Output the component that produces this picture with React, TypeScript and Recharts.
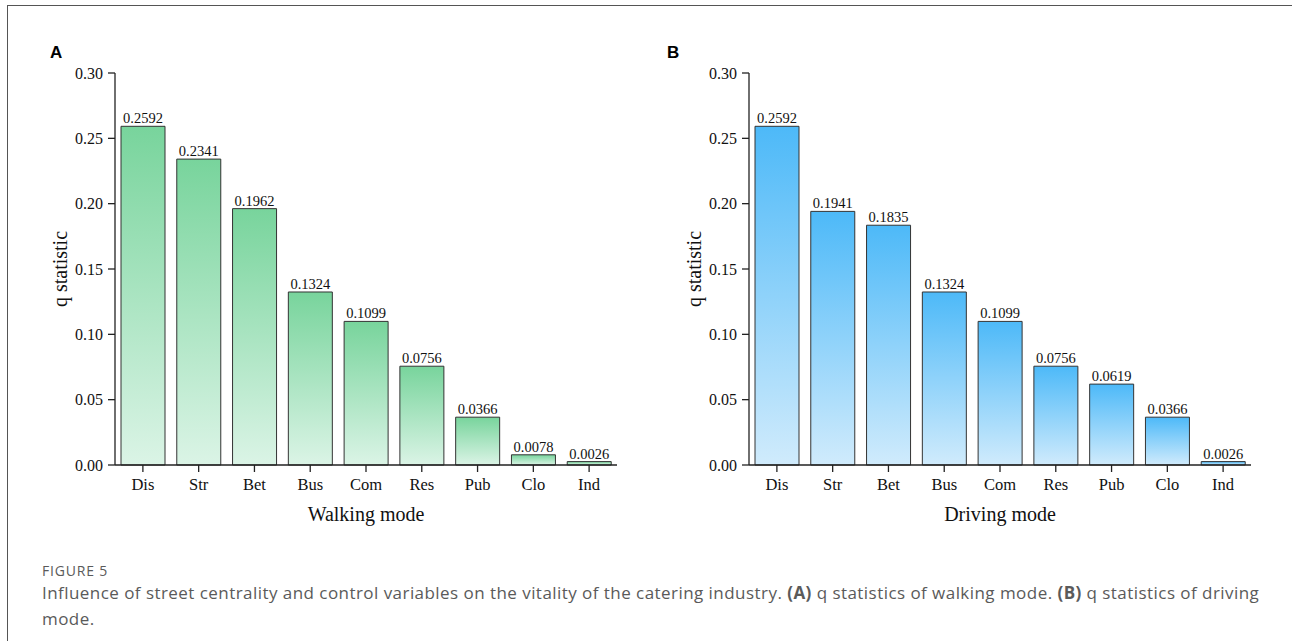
import React from 'react';
import { BarChart, Bar, XAxis, YAxis, LabelList } from 'recharts';

const categories = ['Dis', 'Str', 'Bet', 'Bus', 'Com', 'Res', 'Pub', 'Clo', 'Ind'];
const walkingValues = [0.2592, 0.2341, 0.1962, 0.1324, 0.1099, 0.0756, 0.0366, 0.0078, 0.0026];
const drivingValues = [0.2592, 0.1941, 0.1835, 0.1324, 0.1099, 0.0756, 0.0619, 0.0366, 0.0026];
const yTicks = [0, 0.05, 0.1, 0.15, 0.2, 0.25, 0.3];

const serif = '"Liberation Serif", "Times New Roman", serif';

interface PanelProps {
  values: number[];
  title: string;
  id: string;
  top: string;
  bottom: string;
}

const Panel = ({ values, title, id, top, bottom }: PanelProps) => {
  const data = categories.map((name, i) => ({ name, value: values[i] }));
  return (
    <BarChart
      width={640}
      height={540}
      data={data}
      margin={{ top: 73, right: 23, left: 55, bottom: 10 }}
    >
      <defs>
        <linearGradient id={id} x1="0" y1="0" x2="0" y2="1">
          <stop offset="0%" stopColor={top} />
          <stop offset="100%" stopColor={bottom} />
        </linearGradient>
      </defs>
      <XAxis
        dataKey="name"
        height={65}
        tickSize={7}
        tickMargin={6}
        axisLine={{ stroke: '#222', strokeWidth: 1.3 }}
        tickLine={{ stroke: '#222', strokeWidth: 1.3 }}
        tick={{ fill: '#111', fontSize: 16.5, fontFamily: serif }}
        interval={0}
        label={{
          value: title,
          position: 'insideBottom',
          offset: 9,
          style: { fill: '#111', fontSize: 20, fontFamily: serif },
        }}
      />
      <YAxis
        width={60}
        domain={[0, 0.3]}
        ticks={yTicks}
        tickFormatter={(v: number) => v.toFixed(2)}
        tickSize={7}
        tickMargin={5}
        axisLine={{ stroke: '#222', strokeWidth: 1.3 }}
        tickLine={{ stroke: '#222', strokeWidth: 1.3 }}
        tick={{ fill: '#111', fontSize: 16, fontFamily: serif }}
        label={{
          value: 'q statistic',
          angle: -90,
          position: 'insideLeft',
          offset: 5,
          style: { fill: '#111', fontSize: 20, fontFamily: serif, textAnchor: 'middle' },
        }}
      />
      <Bar
        dataKey="value"
        barSize={44}
        fill={`url(#${id})`}
        stroke="#333"
        strokeWidth={1}
        isAnimationActive={false}
      >
        <LabelList
          dataKey="value"
          position="top"
          offset={3}
          formatter={(v: number) => v.toFixed(4)}
          style={{ fill: '#111', fontSize: 14.5, fontFamily: serif }}
        />
      </Bar>
    </BarChart>
  );
};

const App = () => {
  return (
    <div style={{ position: 'absolute', left: 0, top: 0, width: 1292, height: 641, background: '#fff', overflow: 'hidden' }}>
      <div
        style={{
          position: 'absolute',
          left: 7,
          top: 5,
          width: 1300,
          height: 700,
          borderTop: '1.5px solid #555',
          borderLeft: '1.5px solid #555',
        }}
      />
      <div style={{ position: 'absolute', left: 0, top: 0 }}>
        <Panel values={walkingValues} title="Walking mode" id="gradWalk" top="#78d49c" bottom="#dbf4e6" />
      </div>
      <div style={{ position: 'absolute', left: 634, top: 0 }}>
        <Panel values={drivingValues} title="Driving mode" id="gradDrive" top="#4db9f8" bottom="#d0ebfc" />
      </div>
      <div style={{ position: 'absolute', left: 50, top: 43, fontFamily: '"Liberation Sans", Arial, sans-serif', fontWeight: 700, fontSize: 17 }}>
        A
      </div>
      <div style={{ position: 'absolute', left: 667, top: 43, fontFamily: '"Liberation Sans", Arial, sans-serif', fontWeight: 700, fontSize: 17 }}>
        B
      </div>
      <div
        style={{
          position: 'absolute',
          left: 42,
          top: 561,
          fontFamily: '"Open Sans", sans-serif',
          color: '#5a5a5a',
          whiteSpace: 'nowrap',
        }}
      >
        <div style={{ fontSize: 14, lineHeight: '20px', letterSpacing: 0.8 }}>FIGURE 5</div>
        <div style={{ fontSize: 17, lineHeight: '26px', letterSpacing: 0.45, marginTop: -1 }}>
          Influence of street centrality and control variables on the vitality of the catering industry.{' '}
          <b>(A)</b> q statistics of walking mode. <b>(B)</b> q statistics of driving
          <br />
          mode.
        </div>
      </div>
    </div>
  );
};

export default App;
